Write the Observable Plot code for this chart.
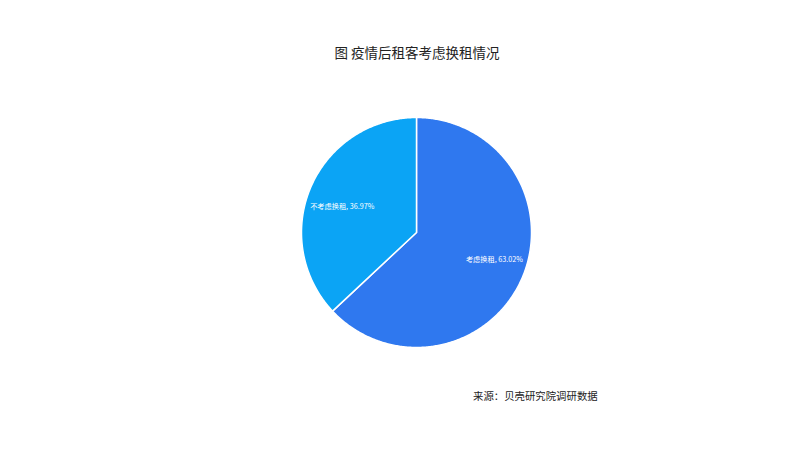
<!DOCTYPE html>
<html><head><meta charset="utf-8">
<script src="https://cdn.jsdelivr.net/npm/d3@7"></script>
<script src="https://cdn.jsdelivr.net/npm/@observablehq/plot@0.6"></script>
<style>
body{margin:0;background:#fff;}
#wrap{position:relative;width:800px;height:450px;font-family:"Noto Sans CJK SC","Noto Sans",sans-serif;}
#title{position:absolute;left:0;width:834px;top:42px;text-align:center;font-size:13.5px;color:#222;}
#cap{position:absolute;left:473px;top:388px;font-size:10.4px;color:#222;}
#chart{position:absolute;left:0;top:0;}
</style></head>
<body><div id="wrap"><div id="chart"></div><div id="title">图 疫情后租客考虑换租情况</div><div id="cap">来源：贝壳研究院调研数据</div></div>
<script>
const categories = ["考虑换租", "不考虑换租"];
const values = [63.02, 36.97];
const colors = ["#2F78EF", "#0BA4F5"];

const total = d3.sum(values);
const pts = [];
const labels = [];
let start = 0;
categories.forEach((c, i) => {
  const span = values[i] / total * 2 * Math.PI;
  const end = start + span;
  pts.push({cat: c, x: 0, y: 0});
  const n = Math.max(2, Math.ceil(span / 0.01));
  for (let k = 0; k <= n; k++) {
    const a = start + span * k / n;
    pts.push({cat: c, x: Math.sin(a), y: Math.cos(a)});
  }
  pts.push({cat: c, x: 0, y: 0});
  const mid = (start + end) / 2 - 0.157;
  labels.push({cat: c, x: 0.955 * Math.sin(mid), y: 0.955 * Math.cos(mid),
    text: c + ", " + values[i].toFixed(2) + "%", anchor: Math.sin(mid) > 0 ? "end" : "start"});
  start = end;
});

const chart = Plot.plot({
  width: 800, height: 450,
  marginLeft: 301, marginRight: 269, marginTop: 117, marginBottom: 103,
  x: {domain: [-1, 1], axis: null},
  y: {domain: [-1, 1], axis: null},
  color: {domain: categories, range: colors},
  style: {background: "transparent"},
  marks: [
    Plot.line(pts, {x: "x", y: "y", z: "cat", fill: "cat", stroke: "white", strokeWidth: 1.5, strokeLinejoin: "round", curve: "linear"}),
    Plot.text(labels.filter(d => d.anchor === "end"), {x: "x", y: "y", text: "text", fill: "white", fontSize: 7.2, textAnchor: "end", fontFamily: "Noto Sans CJK SC"}),
    Plot.text(labels.filter(d => d.anchor === "start"), {x: "x", y: "y", text: "text", fill: "white", fontSize: 7.2, textAnchor: "start", fontFamily: "Noto Sans CJK SC", dy: 2})
  ]
});
document.getElementById("chart").appendChild(chart);
</script></body></html>
